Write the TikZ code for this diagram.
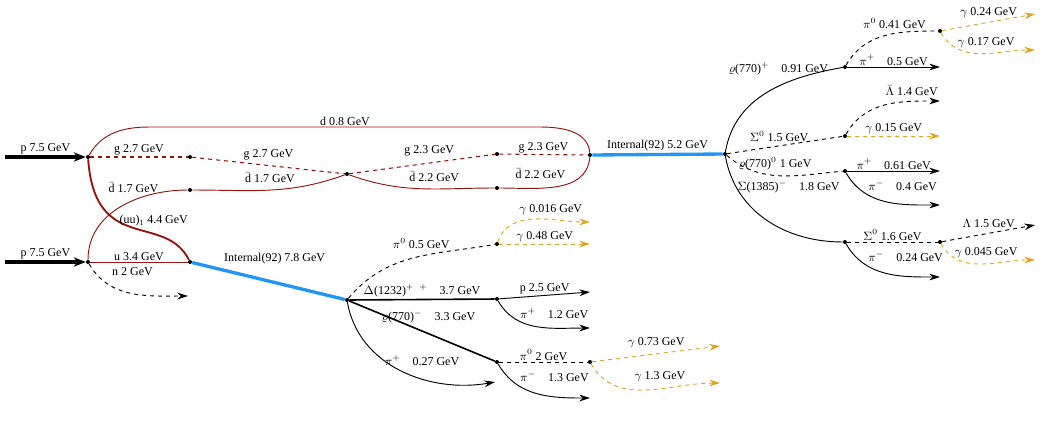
\documentclass[tikz,border=0pt]{standalone}
\usepackage{fontspec}
\setmainfont{Liberation Serif}
\usetikzlibrary{arrows.meta,positioning}
\definecolor{quarkred}{RGB}{150,20,15}
\definecolor{blobblue}{RGB}{35,150,245}
\definecolor{photgold}{RGB}{220,165,30}
\tikzset{
  vtx/.style={circle,fill=black,inner sep=0pt,minimum size=3pt},
  lbl/.style={font=\small,inner sep=1pt},
  beam/.style={line width=2.5pt,-{Stealth[length=9pt,width=7pt]}},
  quark/.style={draw=quarkred,line width=0.7pt},
  gluon/.style={draw=quarkred,line width=0.8pt,dashed},
  blob/.style={draw=blobblue,line width=2.5pt},
  part/.style={line width=0.7pt,-{Stealth[length=8pt,width=5pt]}},
  hvy/.style={line width=1.2pt},
  neut/.style={part,dashed},
  phot/.style={part,dashed,draw=photgold,-{Stealth[length=8pt,width=5pt,fill=photgold]}}
}
\begin{document}
\begin{tikzpicture}[x=0.75pt,y=-0.75pt]
\useasboundingbox (0,0) rectangle (1041,426);
% vertices
\node[vtx] (A) at (88,157) {};
\node[vtx] (B) at (88,262) {};
\node[vtx] (G1) at (190,157) {};
\node[vtx] (D1) at (190,190) {};
\node[vtx] (X) at (347,174) {};
\node[vtx] (G2) at (497,154) {};
\node[vtx] (D2) at (497,188) {};
\node[vtx] (C) at (590,155) {};
\node[vtx] (I1) at (190,262) {};
\node[vtx] (V2) at (347,300) {};
\node[vtx] (P1) at (497,244) {};
\node[vtx] (P2) at (497,299) {};
\node[vtx] (P3) at (497,362) {};
\node[vtx] (P4) at (590,362) {};
\node[vtx] (V3) at (725,154) {};
\node[vtx] (R1) at (845,67) {};
\node[vtx] (P5) at (940,31) {};
\node[vtx] (S0) at (845,136) {};
\node[vtx] (R0) at (845,171) {};
\node[vtx] (S1) at (845,242) {};
\node[vtx] (S2) at (940,242) {};
% free ends
\coordinate (pa) at (5,157);
\coordinate (pb) at (5,262);
\coordinate (n) at (188,296);
\coordinate (e1) at (590,222);
\coordinate (e2) at (590,244);
\coordinate (e3) at (590,292);
\coordinate (e4) at (590,328);
\coordinate (e5) at (720,346);
\coordinate (e6) at (720,383);
\coordinate (e7) at (590,398);
\coordinate (e8) at (495,382);
\coordinate (f1) at (1035,14);
\coordinate (f2) at (1035,50);
\coordinate (f3) at (940,67);
\coordinate (f4) at (940,101);
\coordinate (f5) at (940,136);
\coordinate (f6) at (940,171);
\coordinate (f7) at (940,205);
\coordinate (f8) at (1035,225);
\coordinate (f9) at (1035,260);
\coordinate (f10) at (940,277);
% beams
\draw[beam] (pa) -- node[lbl,above] {p 7.5 GeV} (A);
\draw[beam] (pb) -- node[lbl,above] {p 7.5 GeV} (B);
% partons
\draw[quark] (A) to[out=60,in=180] (150,127) -- node[lbl,above] {d 0.8 GeV} (540,127) to[out=0,in=95] (C);
\draw[gluon] (A) -- node[lbl,above] {g 2.7 GeV} (G1);
\draw[gluon] (G1) -- node[lbl,above=3pt,pos=.5] {g 2.7 GeV} (X);
\draw[gluon] (X) -- node[lbl,above=4pt,pos=.55] {g 2.3 GeV} (G2);
\draw[gluon] (G2) -- node[lbl,above] {g 2.3 GeV} (C);
\draw[quark] (B) to[out=90,in=180] node[lbl,pos=.75,above left=0pt and -6pt] {$\bar{\textrm{d}}$ 1.7 GeV} (D1);
\draw[quark] (D1) to[out=0,in=200] node[lbl,above=4pt] {$\bar{\textrm{d}}$ 1.7 GeV} (X);
\draw[quark] (X) to[out=-20,in=180] node[lbl,above=4pt,pos=.6] {$\bar{\textrm{d}}$ 2.2 GeV} (D2);
\draw[quark] (D2) to[out=0,in=-95] node[lbl,pos=.35,above=6pt] {$\bar{\textrm{d}}$ 2.2 GeV} (C);
\draw[quark,line width=1.4pt] (A) .. controls (95,255) and (165,212) .. node[lbl,pos=.38,right=0pt] {(uu)\textsubscript{1} 4.4 GeV} (I1);
\draw[quark] (B) -- node[lbl,above] {u 3.4 GeV} (I1);
\draw[neut] (B) to[out=-60,in=180] node[lbl,pos=.08,anchor=west,xshift=12pt] {n 2 GeV} (n);
% first cluster
\draw[blob] (I1) -- node[lbl,pos=.12,above right=0pt and 8pt] {Internal(92) 7.8 GeV} (V2);
\draw[dashed,line width=0.7pt] (V2) to[out=50,in=190] node[lbl,above=4pt,pos=.55] {$\pi^0$ 0.5 GeV} (P1);
\draw[phot] (P1) to[out=70,in=180] node[lbl,above=2pt,pos=.65] {$\gamma$ 0.016 GeV} (e1);
\draw[phot] (P1) -- node[lbl,above] {$\gamma$ 0.48 GeV} (e2);
\draw[hvy] (V2) -- node[lbl,above] {$\Delta$(1232)$^{+\ \ +}$\quad 3.7 GeV} (P2);
\draw[part] (P2) -- node[lbl,above] {p 2.5 GeV} (e3);
\draw[part] (P2) to[out=-60,in=180] node[lbl,pos=.15,anchor=west,xshift=8pt] {$\pi^+$\quad 1.2 GeV} (e4);
\draw[hvy] (V2) -- node[lbl,pos=.1,anchor=north west,yshift=-1pt,xshift=12pt] {$\varrho$(770)$^-$\quad 3.3 GeV} (P3);
\draw[dashed,line width=0.7pt] (P3) -- node[lbl,above] {$\pi^0$ 2 GeV} (P4);
\draw[phot] (P4) -- node[lbl,above=3pt] {$\gamma$ 0.73 GeV} (e5);
\draw[phot] (P4) to[out=-60,in=180] node[lbl,above=4pt,pos=.6] {$\gamma$ 1.3 GeV} (e6);
\draw[part] (P3) to[out=-60,in=180] node[lbl,pos=.15,anchor=west,xshift=8pt] {$\pi^-$\quad 1.3 GeV} (e7);
\draw[part] (V2) to[out=-80,in=190] node[lbl,pos=.62,above=8pt] {$\pi^+$\quad 0.27 GeV} (e8);
% second cluster
\draw[blob] (C) -- node[lbl,above] {Internal(92) 5.2 GeV} (V3);
\draw[line width=0.7pt] (V3) to[out=80,in=190] node[lbl,pos=.97,anchor=east,xshift=-6pt] {$\varrho$(770)$^+$\quad 0.91 GeV} (R1);
\draw[dashed,line width=0.7pt] (R1) to[out=60,in=180] node[lbl,above=2pt,pos=.6] {$\pi^0$ 0.41 GeV} (P5);
\draw[phot] (P5) -- node[lbl,above=2pt] {$\gamma$ 0.24 GeV} (f1);
\draw[phot] (P5) to[out=-60,in=180] node[lbl,above=3pt,pos=.55] {$\gamma$ 0.17 GeV} (f2);
\draw[part] (R1) -- node[lbl,above] {$\pi^+$\quad 0.5 GeV} (f3);
\draw[dashed,line width=0.7pt] (V3) -- node[lbl,above=2pt,pos=.45] {$\Sigma^0$ 1.5 GeV} (S0);
\draw[neut] (S0) to[out=60,in=180] node[lbl,above=3pt,pos=.75] {$\bar\Lambda$ 1.4 GeV} (f4);
\draw[phot] (S0) -- node[lbl,above] {$\gamma$ 0.15 GeV} (f5);
\draw[dashed,line width=0.7pt] (V3) to[out=-40,in=185] node[lbl,above=3pt,pos=.45] {$\varrho$(770)$^0$ 1 GeV} (R0);
\draw[part] (R0) -- node[lbl,above] {$\pi^+$\quad 0.61 GeV} (f6);
\draw[part] (R0) to[out=-60,in=180] node[lbl,pos=.15,anchor=west,xshift=8pt] {$\pi^-$\quad 0.4 GeV} (f7);
\draw[line width=0.7pt] (V3) to[out=-80,in=180] node[lbl,pos=.2,right=0pt] {$\Sigma$(1385)$^-$\quad 1.8 GeV} (S1);
\draw[dashed,line width=0.7pt] (S1) -- node[lbl,above] {$\Sigma^0$ 1.6 GeV} (S2);
\draw[neut] (S2) -- node[lbl,above=3pt] {$\Lambda$ 1.5 GeV} (f8);
\draw[phot] (S2) to[out=-60,in=180] node[lbl,above=3pt,pos=.55] {$\gamma$ 0.045 GeV} (f9);
\draw[part] (S1) to[out=-60,in=180] node[lbl,pos=.15,anchor=west,xshift=8pt] {$\pi^-$\quad 0.24 GeV} (f10);
\end{tikzpicture}
\end{document}
